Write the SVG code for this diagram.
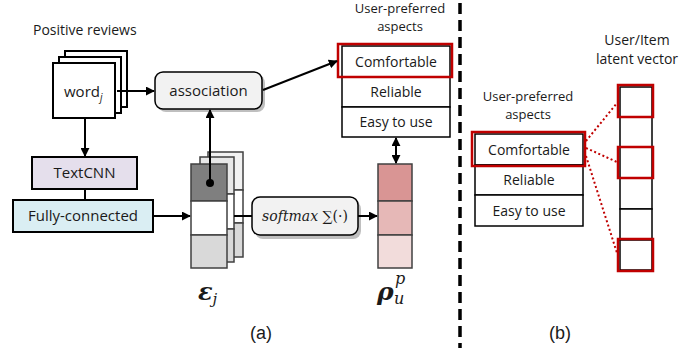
<svg xmlns="http://www.w3.org/2000/svg" width="699" height="351" viewBox="0 0 699 351">
<style>
text{font-family:"Open Sans","Noto Sans","DejaVu Sans",sans-serif;fill:#1a1a1a}
.lbl{font-size:13px}
.cell{font-size:14px;text-anchor:middle}
.box{stroke:#000;stroke-width:2}
.tbl{fill:#fff;stroke:#000;stroke-width:1.5}
.red{fill:none;stroke:#c00000;stroke-width:2.5}
.conn{stroke:#000;stroke-width:2;fill:none}
.dot{stroke:#c00000;stroke-width:2;stroke-dasharray:2 2.5;fill:none}
.sh{fill:#bfbfbf}
.math{font-family:"DejaVu Serif","Liberation Serif",serif}
</style>
<defs>
<marker id="ah" viewBox="0 0 10 10" refX="9" refY="5" markerWidth="4.5" markerHeight="4.5" orient="auto-start-reverse"><path d="M0,0 L10,5 L0,10 z" fill="#000"/></marker>
</defs>

<g id="word">
<text x="33" y="35" style="font-size:14px">Positive reviews</text>
<rect x="65" y="51" width="62" height="56" fill="#fff" class="box"/>
<rect x="59" y="57" width="62" height="56" fill="#fff" class="box"/>
<rect x="53" y="63" width="62" height="55" fill="#fff" class="box"/>
<text x="64" y="97" style="font-size:15px">word<tspan style="font-size:10px;font-style:italic" dy="4">j</tspan></text>
</g>

<g id="association">
<rect x="158" y="75" width="107" height="37" rx="8" class="sh"/>
<rect x="155" y="72" width="107" height="37" rx="8" fill="#f2f2f2" stroke="#000" stroke-width="1.5"/>
<text x="208.5" y="96" style="font-size:15px;text-anchor:middle">association</text>
</g>

<g id="textcnn">
<rect x="32" y="157" width="105" height="32" fill="#e5dfec" class="box"/>
<text x="84.5" y="178" style="font-size:15px;text-anchor:middle">TextCNN</text>
</g>

<g id="fc">
<rect x="13" y="200" width="140" height="32" fill="#daeef3" class="box"/>
<text x="83" y="221" style="font-size:15px;text-anchor:middle">Fully-connected</text>
</g>

<g id="epsilon">
<rect x="208" y="152" width="35" height="38" fill="#f2f2f2" stroke="#404040" stroke-width="1.5"/>
<rect x="208" y="190" width="35" height="33" fill="#fff" stroke="#404040" stroke-width="1.5"/>
<rect x="208" y="223" width="35" height="34" fill="#d9d9d9" stroke="#404040" stroke-width="1.5"/>
<rect x="200" y="157" width="34" height="37" fill="#e8e8e8" stroke="#404040" stroke-width="1.5"/>
<rect x="200" y="194" width="34" height="35" fill="#fff" stroke="#404040" stroke-width="1.5"/>
<rect x="200" y="229" width="34" height="33" fill="#d9d9d9" stroke="#404040" stroke-width="1.5"/>
<rect x="191" y="164" width="36" height="37" fill="#7f7f7f" stroke="#404040" stroke-width="1.5"/>
<rect x="191" y="201" width="36" height="34" fill="#fff" stroke="#404040" stroke-width="1.5"/>
<rect x="191" y="235" width="36" height="33" fill="#d9d9d9" stroke="#404040" stroke-width="1.5"/>
<text class="math" x="198" y="300" style="font-size:24px;font-weight:bold;font-style:italic">ε<tspan style="font-size:15px;font-weight:normal" dy="4">j</tspan></text>
</g>

<g id="softmax">
<rect x="255" y="201" width="106" height="38" rx="8" class="sh"/>
<rect x="252" y="197" width="106" height="38" rx="8" fill="#f2f2f2" stroke="#000" stroke-width="1.5"/>
<text class="math" x="305" y="221" style="font-size:14px;text-anchor:middle"><tspan font-style="italic">softmax</tspan> ∑(·)</text>
</g>

<g id="rho">
<rect x="378" y="164" width="34" height="37" fill="#d99594" stroke="#404040" stroke-width="1.5"/>
<rect x="378" y="201" width="34" height="34" fill="#e6b8b7" stroke="#404040" stroke-width="1.5"/>
<rect x="378" y="235" width="34" height="33" fill="#f2dcdb" stroke="#404040" stroke-width="1.5"/>
<text class="math" x="377" y="300" style="font-size:25px;font-weight:bold;font-style:italic">ρ</text>
<text class="math" x="395" y="284" style="font-size:16px;font-style:italic">p</text>
<text class="math" x="394" y="304" style="font-size:16px;font-style:italic">u</text>
</g>

<g id="aspects-a">
<text class="lbl" style="text-anchor:middle"><tspan x="400" y="13">User-preferred</tspan><tspan x="400" y="31">aspects</tspan></text>
<rect x="342" y="46" width="108" height="31" class="tbl"/>
<rect x="342" y="77" width="108" height="30" class="tbl"/>
<rect x="342" y="107" width="108" height="30" class="tbl"/>
<text class="cell" x="396" y="67">Comfortable</text>
<text class="cell" x="396" y="97">Reliable</text>
<text class="cell" x="396" y="127">Easy to use</text>
<rect x="338" y="44" width="114" height="33" class="red"/>
</g>

<g id="aspects-b">
<text class="lbl" style="text-anchor:middle"><tspan x="528" y="101">User-preferred</tspan><tspan x="528" y="119">aspects</tspan></text>
<rect x="475" y="134" width="108" height="31" class="tbl"/>
<rect x="475" y="165" width="108" height="30" class="tbl"/>
<rect x="475" y="195" width="108" height="31" class="tbl"/>
<text class="cell" x="529" y="155">Comfortable</text>
<text class="cell" x="529" y="185">Reliable</text>
<text class="cell" x="529" y="216">Easy to use</text>
<rect x="472" y="132" width="113" height="34" class="red"/>
</g>

<g id="latent">
<text style="font-size:14px;text-anchor:middle"><tspan x="637" y="45">User/Item</tspan><tspan x="637" y="64">latent vector</tspan></text>
<rect x="620" y="87" width="32" height="30" class="tbl"/>
<rect x="620" y="117" width="32" height="30" class="tbl"/>
<rect x="620" y="147" width="32" height="31" class="tbl"/>
<rect x="620" y="178" width="32" height="31" class="tbl"/>
<rect x="620" y="209" width="32" height="31" class="tbl"/>
<rect x="620" y="240" width="32" height="30" class="tbl"/>
<rect x="618" y="85" width="35" height="32" class="red"/>
<rect x="618" y="147" width="35" height="31" class="red"/>
<rect x="618" y="239" width="35" height="32" class="red"/>
</g>

<g id="connectors">
<line x1="117" y1="91" x2="154" y2="91" class="conn" marker-end="url(#ah)"/>
<line x1="85" y1="118" x2="85" y2="156" class="conn" marker-end="url(#ah)"/>
<line x1="85" y1="189" x2="85" y2="200" class="conn"/>
<line x1="153" y1="216" x2="190" y2="216" class="conn" marker-end="url(#ah)"/>
<line x1="210" y1="183" x2="210" y2="110" class="conn" marker-end="url(#ah)"/>
<circle cx="210" cy="183" r="4" fill="#000"/>
<line x1="234" y1="216" x2="252" y2="216" class="conn"/>
<line x1="358" y1="216" x2="377" y2="216" class="conn" marker-end="url(#ah)"/>
<line x1="263" y1="90" x2="337" y2="61" class="conn" marker-end="url(#ah)"/>
<line x1="396" y1="138" x2="396" y2="163" class="conn" marker-start="url(#ah)" marker-end="url(#ah)"/>
<line x1="586" y1="141" x2="617" y2="103" class="dot"/>
<line x1="586" y1="148" x2="617" y2="162" class="dot"/>
<line x1="586" y1="156" x2="617" y2="253" class="dot"/>
<line x1="460" y1="3" x2="460" y2="348" stroke="#000" stroke-width="3.5" stroke-dasharray="11 6"/>
</g>

<text x="261" y="339" style="font-family:'Liberation Sans',Arial,sans-serif;font-size:18px;text-anchor:middle">(a)</text>
<text x="560" y="339" style="font-family:'Liberation Sans',Arial,sans-serif;font-size:18px;text-anchor:middle">(b)</text>
</svg>
